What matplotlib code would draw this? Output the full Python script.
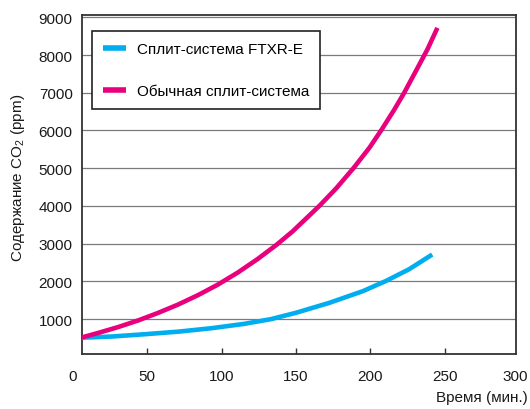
import matplotlib
matplotlib.use("Agg")
import matplotlib.pyplot as plt

FONT = ['Liberation Sans', 'DejaVu Sans']
plt.rcParams['font.family'] = FONT
plt.rcParams['mathtext.fontset'] = 'custom'
plt.rcParams['mathtext.rm'] = 'Liberation Sans'

# Data
time_ftxr = [6, 26, 48, 71, 93, 115, 133, 150, 172.5, 195, 210.5, 226, 241.5]
co2_ftxr = [505, 535, 595, 665, 755, 870, 995, 1165, 1430, 1740, 2010, 2320, 2710]

time_std = [6, 17, 30.4, 43.8, 57.2, 70.6, 84, 97.4, 110.8, 124.2, 137, 147.9,
            165.7, 176.9, 188.6, 199.3, 207.5, 216, 222.7, 230.6, 238.3, 245]
co2_std = [510, 630, 785, 960, 1160, 1380, 1630, 1910, 2230, 2590, 2970, 3330,
           4000, 4460, 5000, 5540, 6020, 6550, 7000, 7580, 8150, 8720]

series_labels = ["Сплит-система FTXR-E", "Обычная сплит-система"]
series_colors = ["#00AEEF", "#E8007D"]

x_ticks = [50, 100, 150, 200, 250]
x_edge_labels = [0, 300]
y_ticks = [1000, 2000, 3000, 4000, 5000, 6000, 7000, 8000, 9000]

FS = 11
W, H = 530, 410
fig = plt.figure(figsize=(W / 100, H / 100), dpi=100)
L, R, T, B = 81.7, 515.7, 16, 355
ax = fig.add_axes([L / W, 1 - B / H, (R - L) / W, (B - T) / H])

for xs, ys, c, lab in [(time_ftxr, co2_ftxr, series_colors[0], series_labels[0]),
                       (time_std, co2_std, series_colors[1], series_labels[1])]:
    ax.plot(xs, ys, color=c, lw=3.3, solid_capstyle='butt',
            solid_joinstyle='round', label=lab, zorder=3)

XMIN, XMAX = 6, 297.6
ax.set_xlim(XMIN, XMAX)
ax.set_ylim(72, 9061)

ax.set_yticks(y_ticks)
ax.set_yticklabels([str(v) for v in y_ticks])
ax.set_xticks(x_ticks)
ax.set_xticklabels([str(v) for v in x_ticks])

ax.tick_params(axis='y', length=0, pad=6.5, labelsize=FS, labelcolor='#1a1a1a')
ax.tick_params(axis='x', direction='in', length=4, width=1, color='#333333',
               pad=11, labelsize=FS, labelcolor='#1a1a1a')

for v in x_edge_labels:
    ax.annotate(str(v), xy=(min(max(v, XMIN - 7), XMAX), 0),
                xycoords=('data', 'axes fraction'),
                xytext=(0, -11), textcoords='offset points',
                ha='center', va='top', fontsize=FS, color='#1a1a1a',
                annotation_clip=False)

ax.grid(axis='y', color='#7a7a7a', lw=0.9, zorder=1)
ax.set_axisbelow(True)
for s in ax.spines.values():
    s.set_color('#333333')
    s.set_linewidth(1.3)

fig.text(18 / W, 1 - 177.5 / H, r"Содержание CO$_\mathregular{2}$ (ppm)",
         rotation=90, ha='center', va='center', fontsize=FS, color='#1a1a1a')
fig.text(528 / W, 1 - 398 / H, "Время (мин.)", ha='right', va='center',
         fontsize=FS, color='#1a1a1a')

leg = ax.legend(loc='upper left',
                bbox_to_anchor=((92 - L) / (R - L), 1 - (32 - T) / (B - T)),
                borderaxespad=0, frameon=True, fancybox=False, fontsize=FS,
                handlelength=1.45, handletextpad=0.72, labelspacing=1.8,
                borderpad=0.75)
leg.get_frame().set_edgecolor('#222222')
leg.get_frame().set_linewidth(1.2)
leg.get_frame().set_alpha(1)
for line in leg.get_lines():
    line.set_linewidth(4)

fig.savefig("out.png", dpi=100)
